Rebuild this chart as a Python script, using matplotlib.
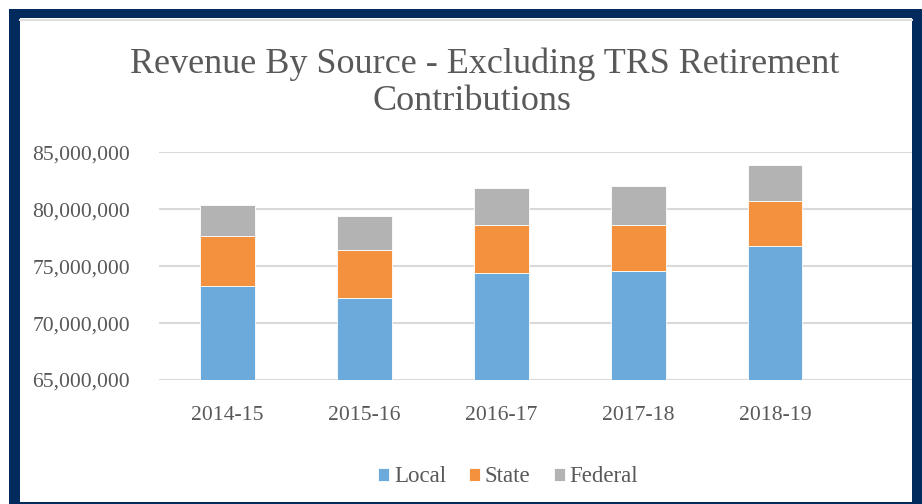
import numpy as np
import matplotlib
matplotlib.use("Agg")
import matplotlib.pyplot as plt
from matplotlib.patches import Rectangle
from matplotlib.lines import Line2D
from matplotlib.ticker import FuncFormatter

# ------------------ data ------------------ #
years   = ["2014-15", "2015-16", "2016-17", "2017-18", "2018-19"]
local   = [73.23e6, 72.23e6, 74.37e6, 74.54e6, 76.80e6]
state   = [4.39e6, 4.16e6, 4.27e6, 4.10e6, 3.90e6]
federal = [2.75e6, 3.01e6, 3.20e6, 3.37e6, 3.21e6]

titulo1 = "Revenue By Source - Excluding TRS Retirement"
titulo2 = "Contributions"
yticks  = [65e6, 70e6, 75e6, 80e6, 85e6]

c_local = "#6CAADC"
c_state = "#F3913F"
c_fed   = "#B3B3B3"
gris    = "#595959"
navy    = "#022B5D"

plt.rcParams["font.family"] = ["Liberation Serif", "DejaVu Serif"]

W, H = 922, 504
fig = plt.figure(figsize=(W / 100, H / 100), dpi=100, facecolor="white")

# ------------------ frame ------------------ #
fig.patches.append(Rectangle((9 / W, 0), 1, 1 - 9 / H, transform=fig.transFigure,
                             facecolor=navy, edgecolor="none", zorder=-3))
fig.patches.append(Rectangle((20 / W, 2 / H), (912 - 20) / W, (502 - 18) / H,
                             transform=fig.transFigure, facecolor="white",
                             edgecolor="none", zorder=-2))
fig.lines.append(Line2D([20 / W, 912 / W], [1 - 19.5 / H, 1 - 19.5 / H],
                        transform=fig.transFigure, color="#DDDDDD", lw=1.5, zorder=-1))

# ------------------ axes ------------------ #
ax = fig.add_axes([159 / W, 1 - 380 / H, (912 - 159) / W, (380 - 152.3) / H])
ax.set_facecolor("none")

x = np.arange(len(years))
local_a = np.array(local)
state_a = np.array(state)
fed_a   = np.array(federal)

ax.bar(x, local_a, width=0.4, color=c_local, edgecolor="white", linewidth=0.6, zorder=3, label="Local")
ax.bar(x, state_a, width=0.4, bottom=local_a, color=c_state, edgecolor="white", linewidth=0.6, zorder=3, label="State")
ax.bar(x, fed_a, width=0.4, bottom=local_a + state_a, color=c_fed, edgecolor="white", linewidth=0.6, zorder=3, label="Federal")

ax.set_xlim(-0.5, 5.0)
ax.set_ylim(65e6, 85e6)
ax.set_yticks(yticks)
ax.yaxis.set_major_formatter(FuncFormatter(lambda v, p: f"{v:,.0f}"))
ax.set_xticks(x)
ax.set_xticklabels(years)

ax.grid(axis="y", color="#D9D9D9", linewidth=1.5, zorder=0)
for s in ax.spines.values():
    s.set_visible(False)
ax.tick_params(axis="both", length=0, labelsize=15.6, colors=gris)
ax.tick_params(axis="y", pad=21)
ax.tick_params(axis="x", pad=19)

# ------------------ title ------------------ #
fig.text(485 / W, 1 - 64 / H, titulo1, ha="center", va="center", fontsize=26, color=gris)
fig.text(472 / W, 1 - 102 / H, titulo2, ha="center", va="center", fontsize=26, color=gris)

# ------------------ legend ------------------ #
leg = fig.legend(loc="center", bbox_to_anchor=(508 / W, 1 - 477 / H), ncol=3,
                 frameon=False, fontsize=16.5, handlelength=0.5, handleheight=0.5,
                 handletextpad=0.2, columnspacing=1.0)
for t in leg.get_texts():
    t.set_color(gris)

plt.savefig("out.png", dpi=100, facecolor="white")
